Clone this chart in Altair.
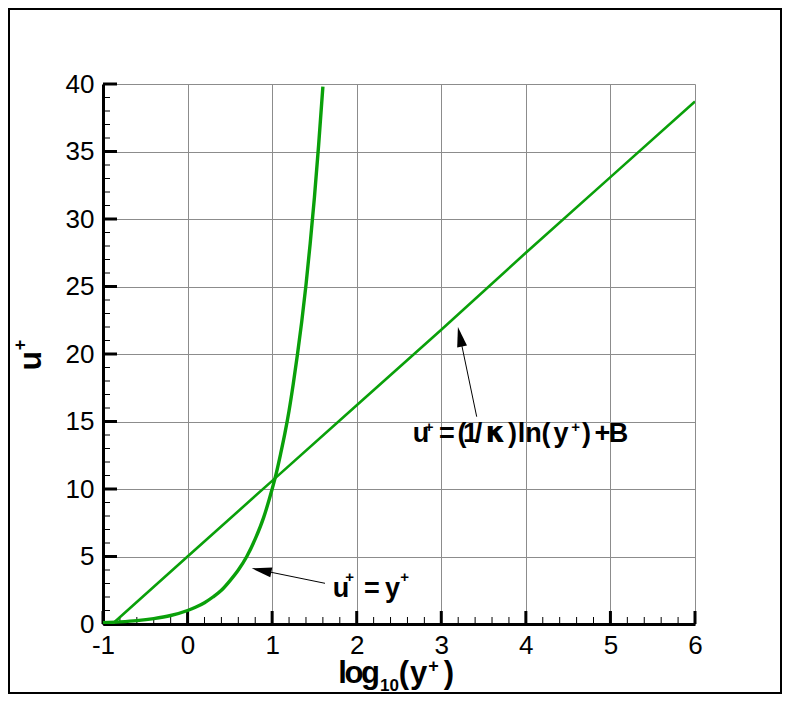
import altair as alt
import pandas as pd

# ---------------- data ----------------
# log law  u+ = (1/kappa) ln(y+) + B   (straight line in log10 axis)
loglaw_x = [-0.89, 0.0, 1.0, 2.0, 3.0, 4.0, 5.0, 6.0]
loglaw_u = [0.0, 5.0, 10.6, 16.2, 21.8, 27.5, 33.1, 38.7]

# viscous sublayer  u+ = y+
linear_x = [-1.0, -0.8, -0.6, -0.4, -0.2, 0.0, 0.1, 0.2, 0.3, 0.4, 0.5, 0.6,
            0.7, 0.8, 0.9, 1.0, 1.05, 1.1, 1.15, 1.2, 1.25, 1.3, 1.35, 1.4,
            1.45, 1.5, 1.55, 1.6]
linear_u = [0.1, 0.16, 0.25, 0.4, 0.63, 1.0, 1.26, 1.58, 2.0, 2.5, 3.2, 4.0,
            5.0, 6.3, 7.9, 10.0, 11.2, 12.6, 14.1, 15.8, 17.8, 20.0, 22.4, 25.1,
            28.2, 31.6, 35.5, 39.8]

x_major = [-1, 0, 1, 2, 3, 4, 5, 6]
y_major = [0, 5, 10, 15, 20, 25, 30, 35, 40]
x_minor = [-0.8, -0.6, -0.4, -0.2, 0.2, 0.4, 0.6, 0.8, 1.2, 1.4, 1.6, 1.8,
           2.2, 2.4, 2.6, 2.8, 3.2, 3.4, 3.6, 3.8, 4.2, 4.4, 4.6, 4.8,
           5.2, 5.4, 5.6, 5.8]
y_minor = [v for v in range(0, 41) if v % 5 != 0]

# ---------------- layout ----------------
W, H = 592, 540
PAD_L, PAD_T = 95, 76
TOTAL_W, TOTAL_H = 774, 686
PAD_R = TOTAL_W - PAD_L - W
PAD_B = TOTAL_H - PAD_T - H
OX, OY = 8 + PAD_L, 8 + PAD_T  # page position of plot origin

GREEN = "#0aa00a"
FONT = "Liberation Sans"

xscale = alt.Scale(domain=[-1, 6], nice=False, zero=False)
yscale = alt.Scale(domain=[0, 40], nice=False, zero=False)
xaxis = alt.Axis(values=x_major, grid=True, gridColor="#8c8c8c", gridWidth=1,
                 domainColor="black", domainWidth=3, ticks=False,
                 labelFont=FONT, labelFontSize=26, labelColor="black",
                 labelPadding=8, labelFlush=False, labelExpr="'' + datum.value",
                 title=None)
yaxis = alt.Axis(values=y_major, grid=True, gridColor="#8c8c8c", gridWidth=1,
                 domainColor="black", domainWidth=3, ticks=False,
                 labelFont=FONT, labelFontSize=26, labelColor="black",
                 labelPadding=9, labelExpr="'' + datum.value", title=None)


def X(field):
    return alt.X(f"{field}:Q", scale=xscale, axis=xaxis)


def Y(field):
    return alt.Y(f"{field}:Q", scale=yscale, axis=yaxis)


df_log = pd.DataFrame({"x": loglaw_x, "u": loglaw_u})
df_lin = pd.DataFrame({"x": linear_x, "u": linear_u})

log_line = alt.Chart(df_log).mark_line(color=GREEN, strokeWidth=2.6, clip=True).encode(
    x=X("x"), y=Y("u"))
lin_line = alt.Chart(df_lin).mark_line(color=GREEN, strokeWidth=3.4, clip=True,
                                      interpolate="monotone").encode(
    x=X("x"), y=Y("u"))

xmaj = alt.Chart(pd.DataFrame({"v": x_major})).mark_rule(color="black", strokeWidth=3).encode(
    x=X("v"), y=alt.value(H), y2=alt.value(H - 13))
xmin = alt.Chart(pd.DataFrame({"v": x_minor})).mark_rule(color="black", strokeWidth=1).encode(
    x=X("v"), y=alt.value(H), y2=alt.value(H - 7))
ymaj = alt.Chart(pd.DataFrame({"v": y_major})).mark_rule(color="black", strokeWidth=3).encode(
    y=Y("v"), x=alt.value(0), x2=alt.value(14))
ymin = alt.Chart(pd.DataFrame({"v": y_minor})).mark_rule(color="black", strokeWidth=1).encode(
    y=Y("v"), x=alt.value(0), x2=alt.value(7))

one = pd.DataFrame({"_": [0]})


def glyph(ch, cx, by, size, bold=True, font=FONT, angle=0):
    kw = dict(text=ch, font=font, fontSize=size, align="center",
              baseline="alphabetic", color="black")
    if bold:
        kw["fontWeight"] = "bold"
    if angle:
        kw["angle"] = angle
    return alt.Chart(one).mark_text(**kw).encode(
        x=alt.value(cx - OX), y=alt.value(by - OY))


texts = []
# annotation: u+ = (1/k)ln(y+) + B
B1 = 442.3
S1 = 431.5
for ch, cx in [("u", 421), ("=", 447), ("(", 462), ("1", 470.5), ("/", 478.5),
               (")", 512.5), ("l", 521.5), ("n", 533.5), ("(", 546),
               ("y", 561), (")", 586.5), ("+", 602.5), ("B", 618.5)]:
    texts.append(glyph(ch, cx, B1, 27))
texts.append(glyph("κ", 495.5, B1, 28, font="DejaVu Sans"))
texts.append(glyph("+", 429, S1, 15))
texts.append(glyph("+", 575.5, S1, 15))

# annotation: u+ = y+
B2 = 596.7
S2 = 582.0
for ch, cx in [("u", 341), ("=", 372), ("y", 392.5)]:
    texts.append(glyph(ch, cx, B2, 27))
texts.append(glyph("+", 349.5, S2, 15))
texts.append(glyph("+", 404.5, S2, 15))

# x axis title: log10(y+)
BX = 682.7
for ch, cx in [("l", 342.5), ("o", 354), ("g", 370.5), ("(", 404),
               ("y", 418.5), (")", 449)]:
    texts.append(glyph(ch, cx, BX, 31))
texts.append(glyph("10", 389.5, 690.5, 17))
texts.append(glyph("+", 433.5, 672, 18))

# y axis title: u+ (rotated)
texts.append(glyph("u", 40.7, 360.8, 32, angle=270))
texts.append(glyph("+", 25.8, 345, 18, angle=270))

# arrows
HEAD = "M0,-1L0.5,1L-0.5,1Z"
arrows = []
for (tx, ty), (hx, hy), ang in [((476.7, 416.7), (460.0, 336.8), 348),
                                ((325.0, 583.3), (261.5, 570.3), 281.6)]:
    arrows.append(alt.Chart(one).mark_rule(color="black", strokeWidth=1).encode(
        x=alt.value(tx - OX), y=alt.value(ty - OY),
        x2=alt.value(hx - OX), y2=alt.value(hy - OY)))
    arrows.append(alt.Chart(one).mark_point(shape=HEAD, size=400, filled=True,
                                            color="black", opacity=1, angle=ang).encode(
        x=alt.value(hx - OX), y=alt.value(hy - OY)))

# outer frame
frame = alt.Chart(one).mark_rect(fill=None, stroke="black", strokeWidth=2).encode(
    x=alt.value(-PAD_L + 1), x2=alt.value(W + PAD_R - 1),
    y=alt.value(-PAD_T + 1), y2=alt.value(H + PAD_B - 1))

chart = alt.layer(xmin, xmaj, ymin, ymaj, log_line, lin_line, *arrows, *texts, frame).properties(
    width=W, height=H,
    autosize=alt.AutoSizeParams(type="none"),
    padding={"left": PAD_L, "top": PAD_T, "right": PAD_R, "bottom": PAD_B},
    background="white",
).configure_view(stroke=None)

chart.save("out.html", embed_options={"renderer": "svg", "actions": False})
